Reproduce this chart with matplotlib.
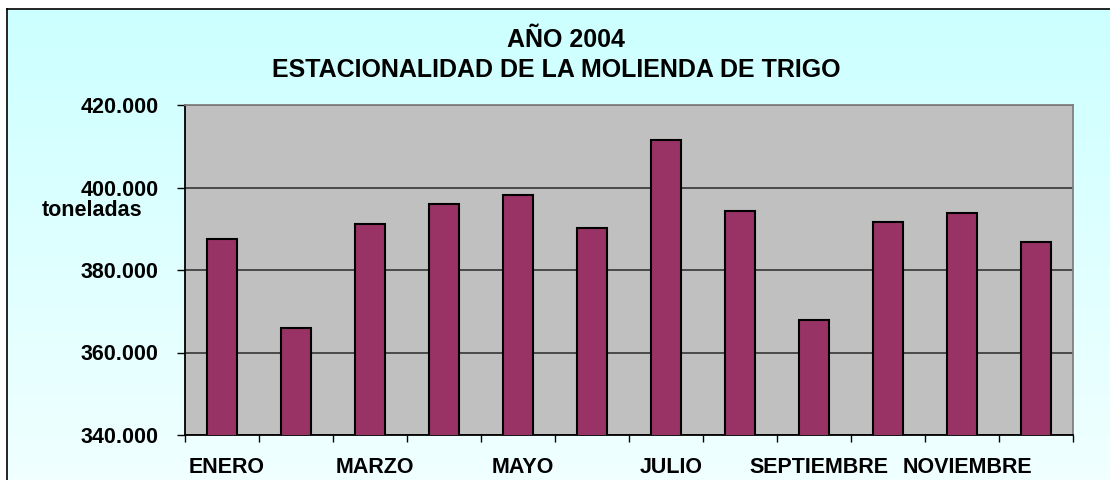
import matplotlib.pyplot as plt
import matplotlib.transforms as mtransforms
import numpy as np
from matplotlib.ticker import FuncFormatter, FixedLocator

# datos (toneladas, año 2004)
meses = ["ENERO", "FEBRERO", "MARZO", "ABRIL", "MAYO", "JUNIO",
         "JULIO", "AGOSTO", "SEPTIEMBRE", "OCTUBRE", "NOVIEMBRE", "DICIEMBRE"]
molienda = [387500, 365900, 391100, 396000, 398200, 390300,
            411500, 394200, 368000, 391600, 393700, 386700]
y_ticks = [340000, 360000, 380000, 400000, 420000]

W, H = 1110, 480
fig = plt.figure(figsize=(W / 100, H / 100), dpi=100)
fig.patch.set_facecolor("white")

# fondo del area del grafico con degradado celeste
bg = fig.add_axes([7 / W, -0.05, 1.05, 1.05 - 9 / H], zorder=-10)
grad = np.linspace(0, 1, 256).reshape(-1, 1)
top = np.array([0.80, 1.0, 1.0])
bot = np.array([0.95, 1.0, 1.0])
img = top + (bot - top) * grad[..., None]
bg.imshow(img, aspect="auto", extent=[0, 1, 0, 1], origin="upper")
bg.set_xticks([])
bg.set_yticks([])
for side in ["right", "bottom"]:
    bg.spines[side].set_visible(False)
bg.spines["left"].set_color("black")
bg.spines["top"].set_color("black")
bg.spines["left"].set_linewidth(1.2)
bg.spines["top"].set_linewidth(1.2)

ax = fig.add_axes([184.7 / W, 1 - 435 / H, (1073.3 - 184.7) / W, (435 - 105) / H])
ax.set_facecolor("#c0c0c0")

x = np.arange(len(meses))
ax.bar(x, molienda, width=0.41, color="#993366", edgecolor="black", linewidth=1.5, zorder=3)

ax.set_xlim(-0.5, len(meses) - 0.5)
ax.set_ylim(y_ticks[0], y_ticks[-1])
ax.set_yticks(y_ticks)
ax.yaxis.set_major_formatter(FuncFormatter(lambda v, p: "{:,.0f}".format(v).replace(",", ".")))
ax.yaxis.grid(True, color="#404040", linewidth=1.3, zorder=1)

# ticks entre categorias, etiquetas cada dos meses
ax.xaxis.set_major_locator(FixedLocator(np.arange(-0.5, len(meses), 1)))
ax.xaxis.set_major_formatter(FuncFormatter(lambda v, p: ""))
ax.xaxis.set_minor_locator(FixedLocator(x[::2]))
ax.set_xticklabels(meses[::2], minor=True)
ax.tick_params(axis="x", which="major", length=5, width=1, color="black")
ax.tick_params(axis="x", which="minor", length=0, pad=16)
ax.tick_params(axis="y", length=6, width=1, pad=13)

shift = mtransforms.ScaledTranslation(5 / 100, 0, fig.dpi_scale_trans)
for lab in ax.get_xticklabels(minor=True):
    lab.set_transform(lab.get_transform() + shift)
for lab in ax.get_xticklabels(minor=True) + ax.get_yticklabels():
    lab.set_fontfamily("Liberation Sans")
    lab.set_fontweight("bold")
    lab.set_fontsize(15.5)

ax.spines["left"].set_color("black")
ax.spines["bottom"].set_color("black")
ax.spines["top"].set_color("#808080")
ax.spines["right"].set_color("#808080")
for s in ax.spines.values():
    s.set_linewidth(1.3)

fig.text(566 / W, 1 - 40 / H, "AÑO 2004", ha="center", va="center",
         fontsize=18, fontweight="bold", family="Liberation Sans")
fig.text(556 / W, 1 - 70 / H, "ESTACIONALIDAD DE LA MOLIENDA DE TRIGO", ha="center", va="center",
         fontsize=18, fontweight="bold", family="Liberation Sans")
fig.text(92 / W, 1 - 210 / H, "toneladas", ha="center", va="center",
         fontsize=15.5, fontweight="bold", family="Liberation Sans")

fig.savefig("out.png", dpi=100)
